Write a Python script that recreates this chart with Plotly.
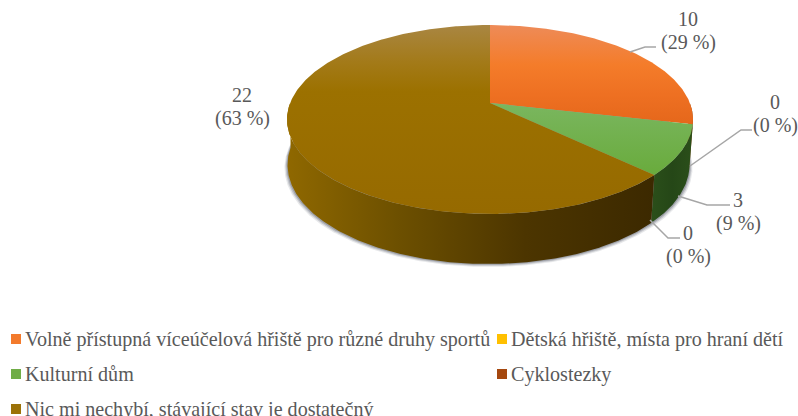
import math
import plotly.graph_objects as go

categories = [
    "Volně přístupná víceúčelová hřiště pro různé druhy sportů",
    "Dětská hřiště, místa pro hraní dětí",
    "Kulturní dům",
    "Cyklostezky",
    "Nic mi nechybí, stávající stav je dostatečný",
]
values = [10, 0, 3, 0, 22]
percent_labels = ["29 %", "0 %", "9 %", "0 %", "63 %"]
legend_colors = ["#f37a2c", "#ffc000", "#70ad47", "#a5480f", "#9c7208"]
wall_colors = [
    [[0, "#8a4a14"], [1, "#8a4a14"]],
    [[0, "#806000"], [1, "#806000"]],
    [[0, "#2b4f1a"], [0.5, "#254717"], [1, "#2b4f1a"]],
    [[0, "#5a2a08"], [1, "#5a2a08"]],
    [[0, "#8f6800"], [0.3, "#6d5000"], [0.65, "#4c3500"], [1, "#3c2900"]],
]
top_colors = [
    [[0, "#ee8b58"], [0.4, "#f47c2a"], [0.7, "#ee7022"], [1, "#e5671b"]],
    [[0, "#ffc000"], [1, "#ffc000"]],
    [[0, "#7ab65f"], [1, "#69ab3c"]],
    [[0, "#a5480f"], [1, "#a5480f"]],
    [[0, "#a98642"], [0.2, "#a37a18"], [0.35, "#9c7100"], [1, "#966a00"]],
]
label_pos = [(688, 19), (775, 102), (738, 200), (688, 233), (242, 95)]
leaders = [
    [(630, 52), (645, 47), (656, 47)],
    [(690, 166), (741, 130), (752, 130)],
    [(678, 196), (707, 205), (730, 205)],
    [(650, 220), (668, 238), (680, 238)],
]

# projective view of the pie disc
CX, CY, A, B, K = 490.0, 103.0, 199.9, 91.6, 0.1746
BOTTOM_SCALE_X, BOTTOM_SCALE_Y, DEPTH, BOTTOM_SHIFT_X = 0.99, 1.05, 44.5, -1.5


def top_pt(deg):
    t = math.radians(deg)
    u, v = math.sin(t), math.cos(t)
    w = 1 + K * v
    return CX + A * u / w, CY - B * v / w


def bottom_pt(deg):
    t = math.radians(deg)
    u, v = math.sin(t), math.cos(t)
    w = 1 + K * v
    return (CX + BOTTOM_SHIFT_X + BOTTOM_SCALE_X * A * u / w,
            CY + DEPTH - BOTTOM_SCALE_Y * B * v / w)


def arc(fn, a0, a1):
    n = max(2, int(abs(a1 - a0) * 2))
    return [fn(a0 + (a1 - a0) * i / n) for i in range(n + 1)]


fig = go.Figure()


def poly(pts, **kw):
    fig.add_trace(go.Scatter(
        x=[p[0] for p in pts], y=[p[1] for p in pts], mode="lines",
        fill="toself", line=dict(width=0), hoverinfo="skip", showlegend=False, **kw))


# soft shadow under the wall
for spread, alpha in [(3.0, 0.12), (2.0, 0.20), (1.0, 0.28)]:
    pts = [(x + (x - CX) * spread / 200, y + spread) for x, y in arc(bottom_pt, 0, 360)]
    poly(pts, fillcolor=f"rgba(60,65,80,{alpha})")

total = sum(values)
angles = [0]
for val in values:
    angles.append(angles[-1] + 360 * val / total)

# side walls
for i, val in enumerate(values):
    a0, a1 = max(angles[i], 90), min(angles[i + 1], 270)
    if val == 0 or a1 <= a0:
        continue
    pts = arc(top_pt, a0, a1) + arc(bottom_pt, a1, a0)
    xs = [p[0] for p in pts]
    poly(pts, fillgradient=dict(type="horizontal", colorscale=wall_colors[i],
                                start=min(xs), stop=max(xs)))

# top faces
for i, val in enumerate(values):
    if val == 0:
        continue
    pts = [(CX, CY)] + arc(top_pt, angles[i], angles[i + 1]) + [(CX, CY)]
    ys = [p[1] for p in pts]
    poly(pts, fillgradient=dict(type="vertical", colorscale=top_colors[i],
                                start=min(ys), stop=max(ys)))

# leader lines
for pts in leaders:
    fig.add_trace(go.Scatter(x=[p[0] for p in pts], y=[p[1] for p in pts], mode="lines",
                             line=dict(color="#a6a6a6", width=1.5), hoverinfo="skip",
                             showlegend=False))

FONT = "Liberation Serif"
TEXT = "#595959"
anns = []
for (x, y), val, pct in zip(label_pos, values, percent_labels):
    anns.append(dict(x=x, y=y, xref="x", yref="y", text=str(val), showarrow=False,
                     font=dict(family=FONT, size=20, color=TEXT), xanchor="center", yanchor="middle"))
    anns.append(dict(x=x, y=y + 23, xref="x", yref="y", text=f"({pct})", showarrow=False,
                     font=dict(family=FONT, size=20, color=TEXT), xanchor="center", yanchor="middle"))

legend_xy = [(16, 339), (502, 339), (16, 374), (502, 374), (16, 409)]
for (x, y), cat, col in zip(legend_xy, categories, legend_colors):
    fig.add_trace(go.Scatter(x=[x], y=[y], mode="markers",
                             marker=dict(symbol="square", size=10, color=col),
                             hoverinfo="skip", showlegend=False, cliponaxis=False))
    anns.append(dict(x=x + 6.5, y=y, xref="x", yref="y", text=cat, showarrow=False,
                     font=dict(family=FONT, size=20.08, color=TEXT), xanchor="left", yanchor="middle"))

fig.update_layout(
    width=798, height=416, margin=dict(l=0, r=0, t=0, b=0),
    paper_bgcolor="white", plot_bgcolor="white", annotations=anns, showlegend=False,
    xaxis=dict(range=[0, 798], visible=False, fixedrange=True),
    yaxis=dict(range=[416, 0], visible=False, fixedrange=True),
)
fig.write_html("out.html", config=dict(displayModeBar=False),
               post_script="document.body.style.margin='0';document.body.style.overflow='hidden';")
